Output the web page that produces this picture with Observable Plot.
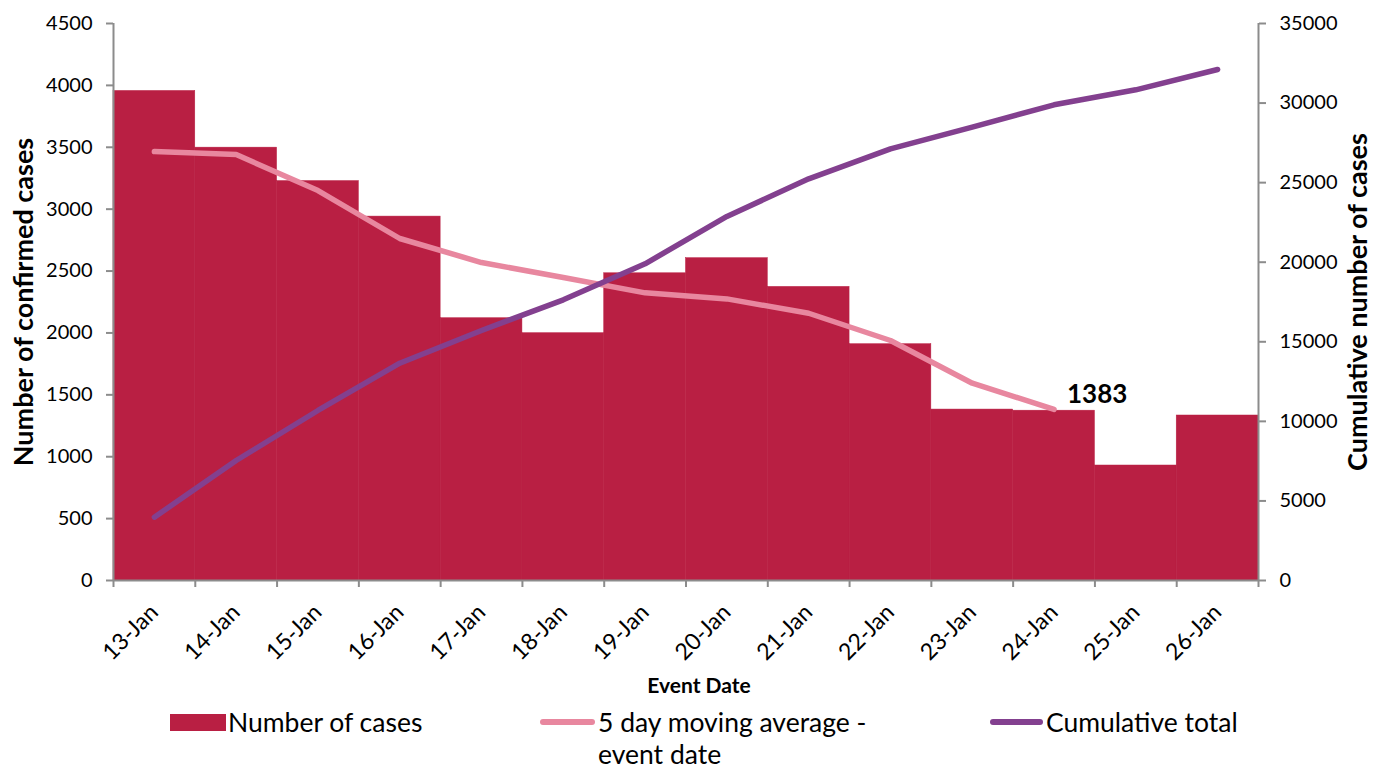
<!DOCTYPE html>
<html>
<head>
<meta charset="utf-8">
<script src="https://cdn.jsdelivr.net/npm/d3@7"></script>
<script src="https://cdn.jsdelivr.net/npm/@observablehq/plot@0.6"></script>
<style>
  html, body { margin: 0; padding: 0; background: #fff; }
  #wrap { position: relative; width: 1375px; height: 771px; font-family: Lato, "Open Sans", sans-serif; color: #000; overflow: hidden; }
  g[aria-label="y-axis label"] { font-weight: bold; }
  g[aria-label="y-axis label"] text { font-size: 27px; }
  .leg { position: absolute; font-size: 26.5px; line-height: 32px; white-space: nowrap; }
  .sw { position: absolute; }
</style>
</head>
<body>
<div id="wrap">
  <div id="chart"></div>
  <div class="sw" style="left:170px; top:714px; width:56px; height:17px; background:#B91F43;"></div>
  <div class="leg" style="left:228px; top:706px;">Number of cases</div>
  <div class="sw" style="left:540px; top:719px; width:55px; height:6px; border-radius:3px; background:#E8879F;"></div>
  <div class="leg" style="left:598px; top:706px;">5 day moving average -<br>event date</div>
  <div class="sw" style="left:990px; top:719px; width:53px; height:6px; border-radius:3px; background:#83408F;"></div>
  <div class="leg" style="left:1046px; top:706px;">Cumulative total</div>
</div>
<script>
const dates = ["13-Jan","14-Jan","15-Jan","16-Jan","17-Jan","18-Jan","19-Jan","20-Jan","21-Jan","22-Jan","23-Jan","24-Jan","25-Jan","26-Jan"];
const cases = [3955, 3497, 3227, 2940, 2119, 1998, 2482, 2604, 2372, 1909, 1381, 1372, 929, 1333];
const movingAvg = [3465, 3441, 3150, 2763, 2569, 2448, 2324, 2275, 2159, 1939, 1594, 1383];
const cumulative = [3978, 7540, 10683, 13655, 15710, 17638, 19900, 22873, 25241, 27126, 28486, 29890, 30833, 32110];
const leftTicks = [0, 500, 1000, 1500, 2000, 2500, 3000, 3500, 4000, 4500];
const rightTicks = [0, 5000, 10000, 15000, 20000, 25000, 30000, 35000];

const leftMax = 4500, rightMax = 35000;
const k = leftMax / rightMax;

const barData = dates.map((d, i) => ({date: d, i, value: cases[i]}));
const maData = movingAvg.map((v, i) => ({date: dates[i], i, value: v}));
const cumData = cumulative.map((v, i) => ({date: dates[i], i, value: v * k}));
const lastMA = maData[maData.length - 1];

const axisColor = "#8c8c8c";

const chart = Plot.plot({
  width: 1375,
  height: 700,
  marginTop: 23,
  marginLeft: 113,
  marginRight: 117,
  marginBottom: 120,
  style: {fontFamily: "Lato, 'Open Sans', sans-serif", fontSize: "20px", color: "#000", background: "#fff"},
  x: {type: "linear", domain: [0, dates.length], axis: null},
  y: {domain: [0, leftMax], axis: null},
  marks: [
    Plot.rect(barData, {x1: d => d.i, x2: d => d.i + 1, y1: 0, y2: "value", fill: "#B91F43", stroke: "#B91F43", strokeWidth: 0.5}),
    Plot.ruleY([0], {stroke: axisColor, strokeWidth: 2}),
    Plot.ruleX([0], {stroke: axisColor, strokeWidth: 2}),
    Plot.ruleX([dates.length], {stroke: axisColor, strokeWidth: 2}),
    Plot.axisX({ticks: d3.range(dates.length + 1), tickSize: 7, tickFormat: () => "", stroke: axisColor, strokeWidth: 2, label: null}),
    Plot.axisX({ticks: d3.range(dates.length).map(i => i + 0.5), tickSize: 0, tickPadding: 28, tickRotate: -45, dx: 0,
      tickFormat: d => dates[Math.floor(d)], fontSize: 23, label: null}),
    Plot.text(["Event Date"], {frameAnchor: "bottom", dy: 112, dx: 13, fontSize: 21, fontWeight: "bold", fill: "#000"}),
    Plot.axisY({ticks: leftTicks, tickSize: 7, tickPadding: 14, stroke: axisColor, strokeWidth: 2, tickFormat: d => String(d),
      label: "Number of confirmed cases", labelAnchor: "center", labelArrow: "none", labelOffset: 100}),
    Plot.axisY({anchor: "right", ticks: rightTicks.map(v => v * k), tickSize: 7, tickPadding: 14, stroke: axisColor, strokeWidth: 2,
      tickFormat: d => String(Math.round(d / k)),
      label: "Cumulative number of cases", labelAnchor: "center", labelArrow: "none", labelOffset: 108}),
    Plot.line(maData, {x: d => d.i + 0.5, y: "value", stroke: "#E8879F", strokeWidth: 5.5, strokeLinecap: "round", strokeLinejoin: "round"}),
    Plot.line(cumData, {x: d => d.i + 0.5, y: "value", stroke: "#83408F", strokeWidth: 5.5, strokeLinecap: "round", strokeLinejoin: "round"}),
    Plot.text([lastMA], {x: d => d.i + 0.5, y: "value", text: d => String(d.value), textAnchor: "start", dx: 13, dy: -15, fontSize: 26, fontWeight: "bold", fill: "#000"})
  ]
});
document.getElementById("chart").appendChild(chart);
</script>
</body>
</html>
